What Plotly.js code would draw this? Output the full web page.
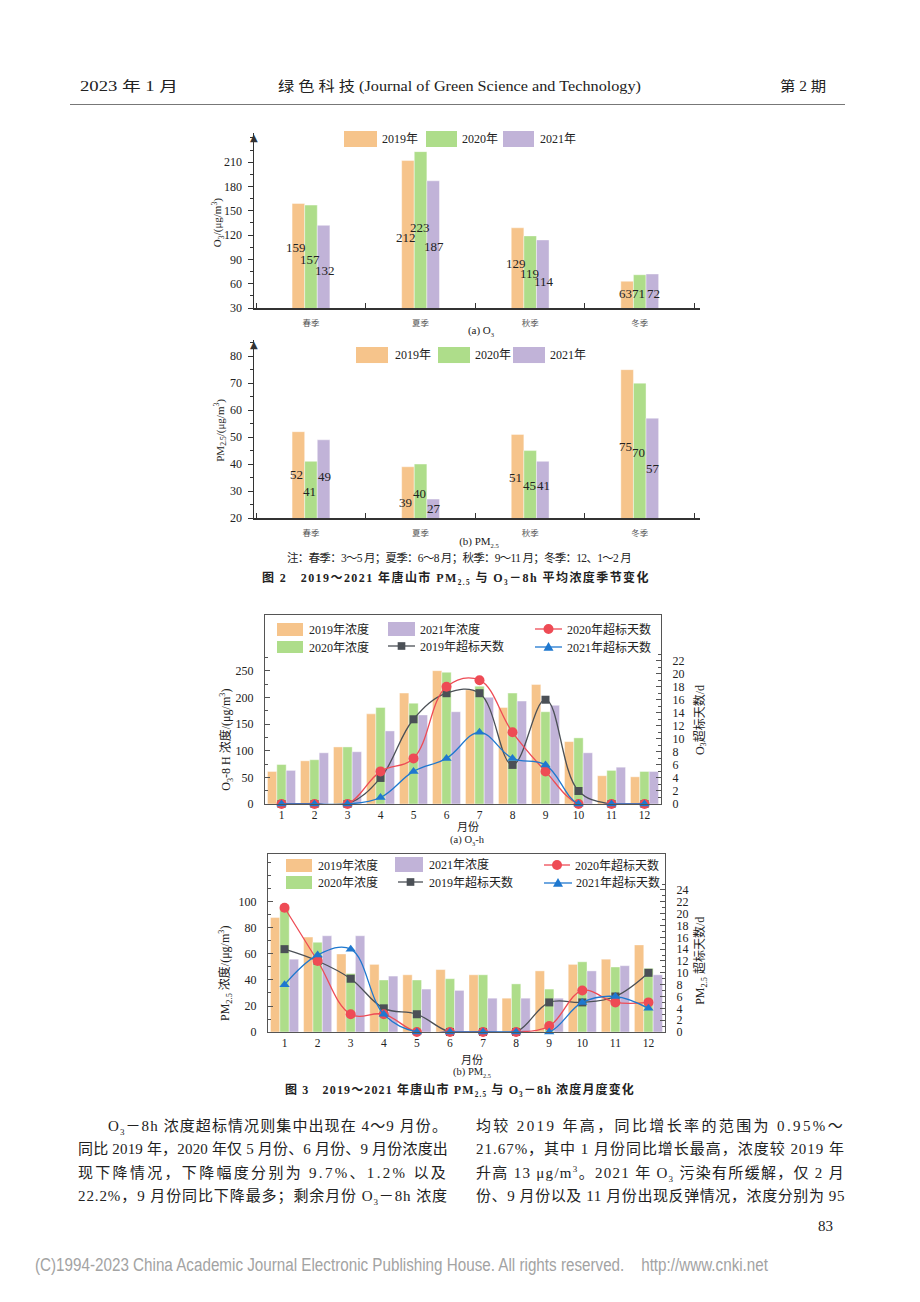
<!DOCTYPE html>
<html><head><meta charset="utf-8">
<script src="https://cdn.plot.ly/plotly-3.0.1.min.js"></script>
<style>
body{margin:0;background:#fff;}
#page{position:relative;width:920px;height:1302px;background:#fff;overflow:hidden;font-family:"Liberation Serif","Noto Sans CJK SC",serif;color:#222;}
.t{position:absolute;white-space:nowrap;display:inline-block;transform-origin:0 50%;}
.t sub,.t sup{font-size:0.6em;line-height:0;}
.chart{position:absolute;}
</style></head><body><div id="page"></div>
<script>
// ---------------- data ----------------
const seasons = ['春季','夏季','秋季','冬季'];
const years = ['2019年','2020年','2021年'];
const o3Season2019 = [159,212,129,63];
const o3Season2020 = [157,223,119,71];
const o3Season2021 = [132,187,114,72];
const pmSeason2019 = [52,39,51,75];
const pmSeason2020 = [41,40,45,70];
const pmSeason2021 = [49,27,41,57];

const months = [1,2,3,4,5,6,7,8,9,10,11,12];
const o3Conc2019 = [61,81,107,169,208,250,214,181,224,117,53,51];
const o3Conc2020 = [74,83,107,181,189,247,221,208,173,124,63,61];
const o3Conc2021 = [63,96,98,137,167,173,200,193,185,96,69,61];
const o3Days2019 = [0,0,0,4,13,17,17,6,16,2,0,0];
const o3Days2020 = [0,0,0,5,7,18,19,11,5,0,0,0];
const o3Days2021 = [0,0,0,1,5,7,11,7,6,0,0,0];
const pmConc2019 = [88,73,60,52,44,48,44,26,47,52,56,67];
const pmConc2020 = [95,69,45,40,40,41,44,37,33,54,50,49];
const pmConc2021 = [56,74,74,43,33,32,26,26,26,47,51,44];
const pmDays2019 = [14,12,9,4,3,0,0,0,5,5,6,10];
const pmDays2020 = [21,12,3,3,0,0,0,0,1,7,5,5];
const pmDays2021 = [8,13,14,3,0,0,0,0,0,5,6,4];
const concNames = ['2019年浓度','2020年浓度','2021年浓度'];
const dayNames = ['2019年超标天数','2020年超标天数','2021年超标天数'];

// label nudges (pixels, positive = down) so the bar value labels stay readable, as in the original
const o3LabelNudge = [[-8,3.5,-4.4,-1.4],[2.5,-2,2,1.8],[3.5,2.5,8,2.3]];
const pmLabelNudge = [[0,9.7,1.4,2.2],[2.3,2,1.7,1.5],[-2.6,0,-3.7,0.6]];

// ---------------- styles ----------------
const C19='#F6C48B', C20='#AEDD8A', C21='#C1B3D8';
const L19='#4B5056', L20='#EE4B55', L21='#1F78CF';
const FONT='Liberation Serif, Noto Sans CJK SC, serif';
const page=document.getElementById('page');

function txt(html,o){
  const s=document.createElement('span');
  s.className='t'; s.innerHTML=html;
  s.style.fontSize=o.size+'px'; s.style.lineHeight=o.size+'px';
  s.style.top=(o.y-o.size/2)+'px';
  if(o.color) s.style.color=o.color;
  if(o.bold) s.style.fontWeight='bold';
  if(o.family) s.style.fontFamily=o.family;
  s._o=o; page.appendChild(s); return s;
}
function fitAll(){
  page.querySelectorAll('.t').forEach(s=>{
    const o=s._o; s.style.letterSpacing='0px'; s.style.transform='';
    const nat=s.getBoundingClientRect().width;
    let left=o.x;
    if(o.w){
      if(o.fit==='scale'){ s.style.transform='scaleX('+(o.w/nat)+')'; }
      else { const n=s.textContent.length; s.style.letterSpacing=((o.w-nat)/n)+'px'; }
      if(o.anchor==='center') left=o.x-o.w/2;
    } else if(o.anchor==='center') left=o.x-nat/2;
    s.style.left=left+'px';
  });
}

// header
txt('2023 年 1 月',{x:80,y:87,size:14,w:98,fit:'scale'});
txt('绿 色 科 技 (Journal of Green Science and Technology)',{x:278,y:87,size:14,w:363,fit:'scale'});
txt('第 2 期',{x:780,y:87,size:14,w:46,fit:'scale'});
const hr=document.createElement('div');
hr.style.cssText='position:absolute;left:70px;top:104px;width:775px;height:1px;background:#777;';
page.appendChild(hr);

// captions
txt('(a) O<sub>3</sub>',{x:481,y:330,size:11,anchor:'center'});
txt('(b) PM<sub>2.5</sub>',{x:479,y:541,size:11,anchor:'center'});
txt('注：春季：3～5 月；夏季：6～8 月；秋季：9～11 月；冬季：12、1～2 月',{x:459,y:559,size:11.5,w:344,anchor:'center'});
txt('图 2　2019～2021 年唐山市 PM<sub>2.5</sub> 与 O<sub>3</sub>－8h 平均浓度季节变化',{x:262,y:578,size:12,w:388,bold:true});
txt('月份',{x:468,y:827,size:11,anchor:'center'});
txt('(a) O<sub>3</sub>-h',{x:467,y:840,size:10.5,anchor:'center'});
txt('月份',{x:472,y:1060,size:11,anchor:'center'});
txt('(b) PM<sub>2.5</sub>',{x:472,y:1072,size:10.5,anchor:'center'});
txt('图 3　2019～2021 年唐山市 PM<sub>2.5</sub> 与 O<sub>3</sub>－8h 浓度月度变化',{x:285,y:1090,size:12,w:350,bold:true});

// body text
const bodyL=['O<sub>3</sub>－8h 浓度超标情况则集中出现在 4～9 月份。',
 '同比 2019 年，2020 年仅 5 月份、6 月份、9 月份浓度出',
 '现下降情况，下降幅度分别为 9.7%、1.2% 以及',
 '22.2%，9 月份同比下降最多；剩余月份 O<sub>3</sub>－8h 浓度'];
const bodyR=['均较 2019 年高，同比增长率的范围为 0.95%～',
 '21.67%，其中 1 月份同比增长最高，浓度较 2019 年',
 '升高 13 μg/m<sup>3</sup>。2021 年 O<sub>3</sub> 污染有所缓解，仅 2 月',
 '份、9 月份以及 11 月份出现反弹情况，浓度分别为 95'];
const lineY=[1126,1149,1173,1196];
bodyL.forEach((h,i)=>txt(h,{x:i===0?108:78,y:lineY[i],size:15,w:i===0?340:370}));
bodyR.forEach((h,i)=>txt(h,{x:476,y:lineY[i],size:15,w:369}));
txt('83',{x:818,y:1226,size:15});
txt('(C)1994-2023 China Academic Journal Electronic Publishing House. All rights reserved.&nbsp;&nbsp;&nbsp;&nbsp;http://www.cnki.net',
  {x:35,y:1265,size:18,w:733,fit:'scale',color:'#a3a3a3',family:'Liberation Sans, sans-serif'});

// ---------------- chart helpers ----------------
function mkDiv(box){
  const d=document.createElement('div'); d.className='chart';
  d.style.left=box.left+'px'; d.style.top=box.top+'px';
  d.style.width=box.w+'px'; d.style.height=box.h+'px';
  page.appendChild(d); return d;
}
function margins(box,plot){
  return {l:plot.l-box.left, t:plot.t-box.top, r:box.left+box.w-plot.l-plot.w, b:box.top+box.h-plot.t-plot.h, pad:0, autoexpand:false};
}
function mkPx(p){ return {x:v=>(v-p.l)/p.w, y:v=>(p.t+p.h-v)/p.h}; }
function legend(P,items){
  const shapes=[],ann=[];
  items.forEach(it=>{
    if(it.kind==='bar'){
      shapes.push({type:'rect',xref:'paper',yref:'paper',x0:P.x(it.x0),x1:P.x(it.x1),y0:P.y(it.y0),y1:P.y(it.y1),fillcolor:it.color,line:{width:0},layer:'above'});
    } else {
      shapes.push({type:'line',xref:'paper',yref:'paper',x0:P.x(it.x0),x1:P.x(it.x1),y0:P.y(it.yc),y1:P.y(it.yc),line:{color:it.color,width:1.3},layer:'above'});
      const cx=(it.x0+it.x1)/2, r=it.r, yc=it.yc;
      if(it.symbol==='circle') shapes.push({type:'circle',xref:'paper',yref:'paper',x0:P.x(cx-r),x1:P.x(cx+r),y0:P.y(yc+r),y1:P.y(yc-r),fillcolor:it.color,line:{width:0},layer:'above'});
      else if(it.symbol==='square') shapes.push({type:'rect',xref:'paper',yref:'paper',x0:P.x(cx-r*0.85),x1:P.x(cx+r*0.85),y0:P.y(yc+r*0.85),y1:P.y(yc-r*0.85),fillcolor:it.color,line:{width:0},layer:'above'});
      else shapes.push({type:'path',xref:'paper',yref:'paper',path:'M'+P.x(cx)+','+P.y(yc-r)+' L'+P.x(cx+r)+','+P.y(yc+r*0.75)+' L'+P.x(cx-r)+','+P.y(yc+r*0.75)+' Z',fillcolor:it.color,line:{width:0},layer:'above'});
    }
    const yc = it.kind==='bar' ? (it.y0+it.y1)/2 : it.yc;
    ann.push({xref:'paper',yref:'paper',x:P.x(it.tx),y:P.y(yc),xanchor:'left',yanchor:'middle',text:it.label,showarrow:false,font:{family:FONT,size:12,color:'#222'}});
  });
  return {shapes,ann};
}

// ---------------- seasonal charts ----------------
function seasonChart(box,plot,vals,nudge,yr,tv,mv,ytitle,ty,leg){
  const P=mkPx(plot);
  const cols=[C19,C20,C21];
  const xr=[-0.52,3.55], gap=0.655;
  const data=vals.map((v,i)=>({type:'bar',x:seasons,y:v,name:years[i],marker:{color:cols[i],line:{width:0.6,color:'rgba(255,255,255,0.7)'}},hoverinfo:'skip'}));
  const L=legend(P,leg.map((g,i)=>({kind:'bar',color:cols[i],x0:g[0],x1:g[1],y0:g[2],y1:g[3],tx:g[4],label:years[i]})));
  // value labels at the middle of the visible part of each bar
  const catW=plot.w/(xr[1]-xr[0]), barW=catW*(1-gap)/3;
  vals.forEach((v,i)=>v.forEach((val,j)=>L.ann.push({x:seasons[j],y:(yr[0]+val)/2,xref:'x',yref:'y',
    xshift:(i-1)*barW+[-2,-1,1][i],yshift:-nudge[i][j],text:String(val),showarrow:false,xanchor:'center',yanchor:'middle',
    font:{family:FONT,size:13,color:'#222'}})));
  L.ann.push({xref:'paper',yref:'paper',x:0,y:1,xanchor:'center',yanchor:'top',yshift:3,text:'▲',showarrow:false,font:{family:'DejaVu Sans',size:10,color:'#333'}});
  L.ann.push({xref:'paper',yref:'paper',x:0,xshift:ty[0],y:ty[1],xanchor:'center',yanchor:'middle',textangle:-90,text:ytitle,showarrow:false,font:{family:FONT,size:11,color:'#222'}});
  Plotly.newPlot(mkDiv(box),data,{
    width:box.w,height:box.h,margin:margins(box,plot),paper_bgcolor:'rgba(0,0,0,0)',plot_bgcolor:'rgba(0,0,0,0)',
    showlegend:false,barmode:'group',bargap:gap,bargroupgap:0,
    xaxis:{type:'category',range:xr,showline:true,linecolor:'#333',linewidth:1.5,ticks:'inside',tickson:'boundaries',ticklen:5,tickcolor:'#333',
      showgrid:false,zeroline:false,tickfont:{family:'Noto Sans CJK SC',size:8.5,color:'#555'},ticklabelstandoff:6},
    yaxis:{range:yr,tickmode:'array',tickvals:tv,showline:true,linecolor:'#333',linewidth:1.5,ticks:'outside',ticklen:5,tickcolor:'#333',
      minor:{tickmode:'array',tickvals:mv,ticks:'outside',ticklen:3,tickcolor:'#333'},
      showgrid:false,zeroline:false,tickfont:{family:FONT,size:12,color:'#222'},ticklabelstandoff:3},
    shapes:L.shapes,annotations:L.ann,font:{family:FONT}
  },{staticPlot:true});
}
seasonChart({left:150,top:110,w:600,h:235},{l:254,t:133,w:446,h:174.7},
  [o3Season2019,o3Season2020,o3Season2021],o3LabelNudge,[30,246],[30,60,90,120,150,180,210],[45,75,105,135,165,195,225,240],
  'O<sub>3</sub>/(μg/m<sup>3</sup>)',[-36,0.485],
  [[344,377,131,147,380],[426,457,131,147,460],[503,534,131,147,538]]);
seasonChart({left:150,top:330,w:600,h:225},{l:254,t:340,w:446,h:177.7},
  [pmSeason2019,pmSeason2020,pmSeason2021],pmLabelNudge,[20,86],[20,30,40,50,60,70,80],[25,35,45,55,65,75,85],
  'PM<sub>2.5</sub>/(μg/m<sup>3</sup>)',[-34,0.49],
  [[356,388,347,363,393],[438,470,347,363,473],[513,545,347,363,548]]);

// ---------------- monthly charts ----------------
function monthChart(box,plot,conc,days,yr,tv,mv,y2r,tv2,mv2,lt,rt,ltPos,rtPos,leg){
  const P=mkPx(plot);
  const cols=[C19,C20,C21], lcols=[L19,L20,L21], syms=['square','circle','triangle-up'], msz=[8,10,9];
  const data=conc.map((v,i)=>({type:'bar',x:months,y:v,name:concNames[i],marker:{color:cols[i],line:{width:0.6,color:'rgba(255,255,255,0.7)'}},hoverinfo:'skip'}));
  days.forEach((v,i)=>data.push({type:'scatter',mode:'lines+markers',x:months,y:v,name:dayNames[i],yaxis:'y2',cliponaxis:false,
    line:{shape:'spline',smoothing:1.1,color:lcols[i],width:1.3},marker:{symbol:syms[i],size:msz[i],color:lcols[i]},hoverinfo:'skip'}));
  const it=[
    {kind:'bar',color:C19,label:concNames[0]},{kind:'bar',color:C21,label:concNames[2]},{kind:'line',color:L20,symbol:'circle',r:5,label:dayNames[1]},
    {kind:'bar',color:C20,label:concNames[1]},{kind:'line',color:L19,symbol:'square',r:4.5,label:dayNames[0]},{kind:'line',color:L21,symbol:'tri',r:5,label:dayNames[2]}
  ].map((o,i)=>Object.assign(o,leg[i]));
  const L=legend(P,it);
  L.ann.push({xref:'paper',yref:'paper',x:0,xshift:ltPos[0],y:ltPos[1],xanchor:'center',yanchor:'middle',textangle:-90,text:lt,showarrow:false,font:{family:FONT,size:12,color:'#222'}});
  L.ann.push({xref:'paper',yref:'paper',x:1,xshift:rtPos[0],y:rtPos[1],xanchor:'center',yanchor:'middle',textangle:-90,text:rt,showarrow:false,font:{family:FONT,size:12,color:'#222'}});
  Plotly.newPlot(mkDiv(box),data,{
    width:box.w,height:box.h,margin:margins(box,plot),paper_bgcolor:'rgba(0,0,0,0)',plot_bgcolor:'rgba(0,0,0,0)',
    showlegend:false,barmode:'group',bargap:0.15,bargroupgap:0,
    xaxis:{range:[0.5,12.5],tickmode:'array',tickvals:months,showline:true,mirror:true,linecolor:'#555',linewidth:1.2,ticks:'',
      showgrid:false,zeroline:false,tickfont:{family:FONT,size:11.5,color:'#222'},ticklabelstandoff:0},
    yaxis:{range:yr,tickmode:'array',tickvals:tv,showline:true,linecolor:'#555',linewidth:1.2,ticks:'inside',ticklen:5,tickcolor:'#555',
      minor:{tickmode:'array',tickvals:mv,ticks:'inside',ticklen:3,tickcolor:'#555'},
      showgrid:false,zeroline:false,tickfont:{family:FONT,size:12,color:'#222'},ticklabelstandoff:8},
    yaxis2:{overlaying:'y',side:'right',range:y2r,tickmode:'array',tickvals:tv2,showline:true,linecolor:'#555',linewidth:1.2,ticks:'inside',ticklen:5,tickcolor:'#555',
      minor:{tickmode:'array',tickvals:mv2,ticks:'inside',ticklen:3,tickcolor:'#555'},
      showgrid:false,zeroline:false,tickfont:{family:FONT,size:12,color:'#222'},ticklabelstandoff:8},
    shapes:L.shapes,annotations:L.ann,font:{family:FONT}
  },{staticPlot:true});
}
const ev=(a,b,s)=>{const r=[];for(let v=a;v<=b+1e-9;v+=s)r.push(v);return r;};
monthChart({left:150,top:598,w:620,h:240},{l:265,t:615,w:396,h:189},
  [o3Conc2019,o3Conc2020,o3Conc2021],[o3Days2019,o3Days2020,o3Days2021],
  [0,354.4],ev(0,250,50),ev(25,275,50),[0,29.0],ev(0,22,2),ev(1,23,2),
  'O<sub>3</sub>-8 H 浓度/(μg/m<sup>3</sup>)','O<sub>3</sub>超标天数/d',[-38,0.34],[39,0.444],
  [{x0:277,x1:303,y0:623,y1:636,tx:307},{x0:388,x1:415,y0:622,y1:636,tx:418},{x0:535,x1:562,yc:629,tx:565},
   {x0:277,x1:303,y0:641,y1:653,tx:307},{x0:388,x1:415,yc:646,tx:418},{x0:535,x1:562,yc:647,tx:565}]);
monthChart({left:150,top:840,w:620,h:215},{l:268,t:854,w:397,h:178},
  [pmConc2019,pmConc2020,pmConc2021],[pmDays2019,pmDays2020,pmDays2021],
  [0,136.9],ev(0,100,20),ev(10,130,10),[0,30.08],ev(0,24,2),ev(1,25,2),
  'PM<sub>2.5</sub> 浓度/(μg/m<sup>3</sup>)','PM<sub>2.5</sub> 超标天数/d',[-42,0.326],[36,0.40],
  [{x0:286,x1:312,y0:859,y1:872,tx:316},{x0:395,x1:423,y0:857,y1:872,tx:427},{x0:544,x1:570,yc:865,tx:573},
   {x0:286,x1:312,y0:876,y1:889,tx:316},{x0:398,x1:423,yc:882,tx:427},{x0:544,x1:572,yc:883,tx:574}]);

fitAll();
if(document.fonts&&document.fonts.ready) document.fonts.ready.then(fitAll);
</script></body></html>
